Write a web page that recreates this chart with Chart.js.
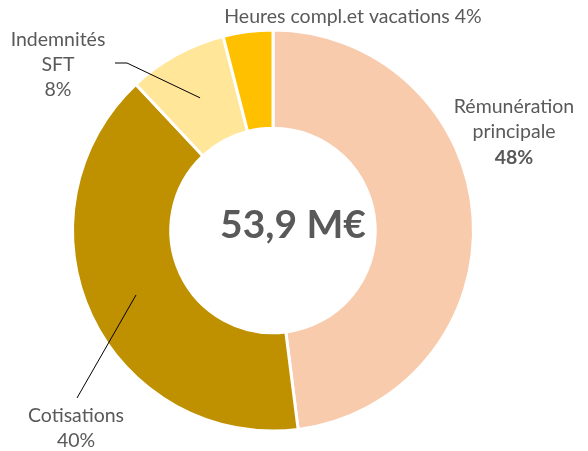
<!DOCTYPE html>
<html>
<head>
    <title>Masse salariale</title>
    <script src="https://cdn.jsdelivr.net/npm/chart.js"></script>
    <style>
        html, body { margin: 0; padding: 0; background: #fff; }
        #wrap { width: 588px; height: 451px; }
    </style>
</head>
<body>
    <div id="wrap">
        <canvas id="donutChart" width="588" height="451"></canvas>
    </div>

    <script>
        const categories = ['Rémunération principale', 'Cotisations', 'Indemnités SFT', 'Heures compl.et vacations'];
        const shares = [48, 40, 8, 4];
        const colors = ['#F8CBAD', '#BF9000', '#FFE699', '#FFC000'];
        const totalLabel = '53,9 M€';

        const FONT = 'Lato, "Open Sans", sans-serif';
        const GREY = '#595959';

        // label text blocks, and whether a leader line goes to the slice
        const labelBlocks = [
            { lines: ['Rémunération', 'principale'], pct: true, bold: true, x: 514, y: 107, leader: null },
            { lines: ['Cotisations'], pct: true, bold: false, x: 76, y: 416, leader: { x: 77, y: 398 } },
            { lines: ['Indemnités', 'SFT'], pct: true, bold: false, x: 58, y: 40, leader: { x: 115, y: 63, elbow: 127 } },
            { lines: [], pct: false, bold: false, x: 353, y: 17, leader: null }
        ];

        const labelPlugin = {
            id: 'labelPlugin',
            afterDraw(chart) {
                const ctx = chart.ctx;
                const arcs = chart.getDatasetMeta(0).data;
                ctx.save();
                ctx.textAlign = 'center';
                ctx.textBaseline = 'middle';
                ctx.fillStyle = GREY;

                // center total
                const c = arcs[0];
                ctx.font = 'bold 39px ' + FONT;
                ctx.fillText(totalLabel, c.x + 20, c.y - 5);

                labelBlocks.forEach((b, i) => {
                    const lh = 25;
                    let lines = b.lines.slice();
                    ctx.font = '19.5px ' + FONT;
                    if (i === 3) {
                        ctx.fillText(categories[i] + ' ' + shares[i] + '%', b.x, b.y);
                    } else {
                        lines.forEach((t, k) => ctx.fillText(t, b.x, b.y + k * lh));
                        ctx.font = (b.bold ? 'bold ' : '') + '19.5px ' + FONT;
                        ctx.fillText(shares[i] + '%', b.x, b.y + lines.length * lh + (b.bold ? 1 : 0));
                    }
                    if (b.leader) {
                        const p = arcs[i].getCenterPoint();
                        ctx.strokeStyle = '#000';
                        ctx.lineWidth = 1;
                        ctx.beginPath();
                        ctx.moveTo(b.leader.x, b.leader.y);
                        if (b.leader.elbow) ctx.lineTo(b.leader.elbow, b.leader.y);
                        ctx.lineTo(p.x, p.y);
                        ctx.stroke();
                    }
                });
                ctx.restore();
            }
        };

        new Chart(document.getElementById('donutChart'), {
            type: 'doughnut',
            data: {
                labels: categories,
                datasets: [{
                    data: shares,
                    backgroundColor: colors,
                    borderColor: '#ffffff',
                    borderWidth: 3
                }]
            },
            options: {
                responsive: false,
                animation: false,
                cutout: '51%',
                layout: { padding: { left: 71, right: 113, top: 28, bottom: 18 } },
                plugins: {
                    legend: { display: false },
                    tooltip: { enabled: false }
                }
            },
            plugins: [labelPlugin]
        });
    </script>
</body>
</html>
